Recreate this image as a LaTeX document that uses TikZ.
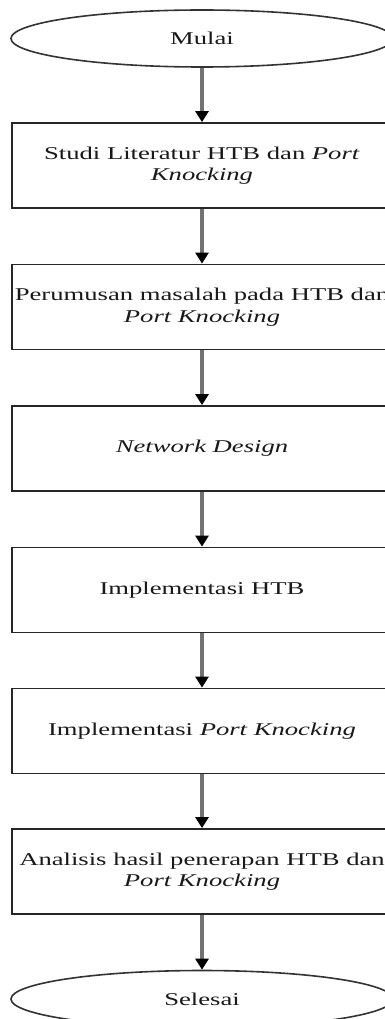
\documentclass[tikz,border=0pt]{standalone}
\usepackage{fontspec}
\setmainfont{Liberation Serif}[FakeStretch=1.48]
\usetikzlibrary{shapes.geometric,arrows.meta}
\begin{document}
\begin{tikzpicture}[x=1pt,y=-1pt,
  txt/.style={font=\fontsize{18}{21.6}\selectfont, text=black!90, align=center},
  term/.style={txt, ellipse, draw=black!80, line width=1.6pt, fill=white,
    minimum width=382pt, minimum height=57pt, inner sep=0pt},
  procbox/.style={txt, rectangle, draw=black!85, line width=1.8pt, fill=white,
    minimum width=380pt, minimum height=85pt, inner sep=0pt},
  conn/.style={draw=black!55, line width=3.2pt,
    -{Triangle[length=11pt,width=13pt,color=black]}}]
\useasboundingbox (0,0) rectangle (385,1019);
\clip (0,0) rectangle (385,1019);
\fill[white] (0,0) rectangle (385,1019);
\node[term] (start) at (202,38.5) {Mulai};
\node[procbox] (s1) at (202,165.5) {Studi Literatur HTB dan \textit{Port}\\\textit{Knocking}};
\node[procbox] (s2) at (202,307) {Perumusan masalah pada HTB dan\\\textit{Port Knocking}};
\node[procbox] (s3) at (202,448.5) {\textit{Network Design}};
\node[procbox] (s4) at (202,590) {Implementasi HTB};
\node[procbox] (s5) at (202,731) {Implementasi \textit{Port Knocking}};
\node[procbox] (s6) at (202,871.5) {Analisis hasil penerapan HTB dan\\\textit{Port Knocking}};
\node[term] (stop) at (202,999) {Selesai};
\draw[conn] (start) -- (s1);
\draw[conn] (s1) -- (s2);
\draw[conn] (s2) -- (s3);
\draw[conn] (s3) -- (s4);
\draw[conn] (s4) -- (s5);
\draw[conn] (s5) -- (s6);
\draw[conn] (s6) -- (stop);
\end{tikzpicture}
\end{document}
